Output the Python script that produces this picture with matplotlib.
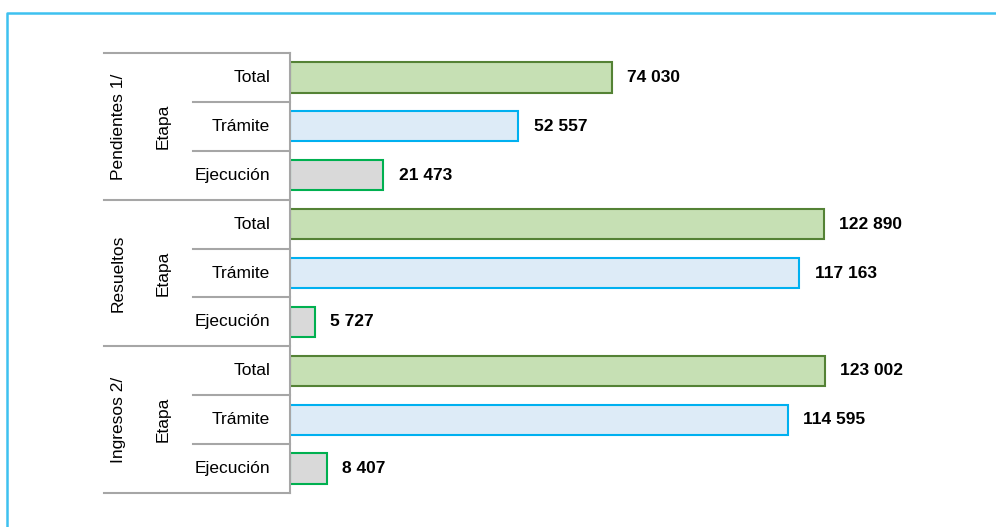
import matplotlib
matplotlib.use("Agg")
import matplotlib.pyplot as plt
import matplotlib.transforms as mtransforms
from matplotlib.lines import Line2D

# data
groups = ["Pendientes 1/", "Resueltos", "Ingresos 2/"]
stages = ["Total", "Trámite", "Ejecución"]
pendientes = [74030, 52557, 21473]
resueltos = [122890, 117163, 5727]
ingresos = [123002, 114595, 8407]

fills = {"Total": "#C6E0B4", "Trámite": "#DDEBF7", "Ejecución": "#D9D9D9"}
edges = {"Total": "#548235", "Trámite": "#00B0F0", "Ejecución": "#00B050"}

plt.rcParams['font.family'] = ['Liberation Sans Narrow', 'Liberation Sans', 'DejaVu Sans']
fs = 12.5

W, H = 996, 527
fig = plt.figure(figsize=(W / 100, H / 100), dpi=100)
ax = fig.add_axes([290 / W, (H - 493) / H, 652 / W, 440 / H])

values = pendientes + resueltos + ingresos
labels = stages * 3
ypos = list(range(len(values)))

for y, v, lab in zip(ypos, values, labels):
    ax.barh(y, v, height=0.62, color=fills[lab], edgecolor=edges[lab], linewidth=1.5)
    ax.annotate(f"{v:,}".replace(",", " "), (v, y), xytext=(11, 0),
                textcoords="offset points", ha="left", va="center",
                fontsize=fs, fontweight="bold")

ax.set_xlim(0, 150000)
ax.set_ylim(8.5, -0.5)
ax.set_xticks([])
ax.set_yticks([])
for s in ["top", "right", "bottom"]:
    ax.spines[s].set_visible(False)
ax.spines["left"].set_color("#a6a6a6")
ax.spines["left"].set_linewidth(1.5)

# category table on the left
tr = mtransforms.blended_transform_factory(fig.transFigure, ax.transData)
x_axis = 290 / W
for y, lab in zip(ypos, labels):
    ax.text(270 / W, y, lab, transform=tr, ha="right", va="center", fontsize=fs)
for i, g in enumerate(groups):
    yc = i * 3 + 1
    ax.text(118 / W, yc, g, transform=tr, ha="center", va="center",
            rotation=90, fontsize=fs)
    ax.text(163 / W, yc, "Etapa", transform=tr, ha="center", va="center",
            rotation=90, fontsize=fs)

for yb in [-0.5, 2.5, 5.5, 8.5]:
    ax.add_line(Line2D([104 / W, x_axis], [yb, yb], transform=tr,
                       color="#a6a6a6", lw=1.5, clip_on=False))
for yb in [0.5, 1.5, 3.5, 4.5, 6.5, 7.5]:
    ax.add_line(Line2D([193 / W, x_axis], [yb, yb], transform=tr,
                       color="#a6a6a6", lw=1.5, clip_on=False))

# light blue frame (left and top edges)
fig.add_artist(Line2D([7 / W, 7 / W, 1], [0, (H - 13) / H, (H - 13) / H],
                      transform=fig.transFigure, color="#3EC1F0", lw=1.8))

fig.savefig("out.png", dpi=100)
